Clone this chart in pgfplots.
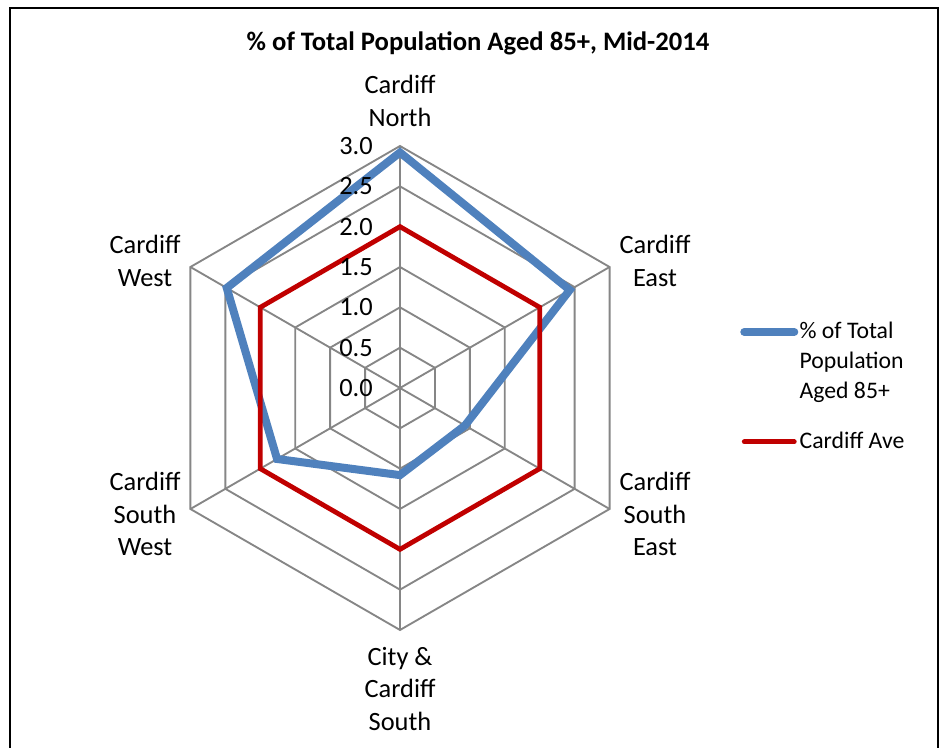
\documentclass[border=0pt]{standalone}
\usepackage{pgfplots}
\pgfplotsset{compat=1.18}
\usepackage{fontspec}
\setmainfont{Carlito}
\definecolor{serblue}{RGB}{79,129,189}
\definecolor{serred}{RGB}{192,0,0}
\definecolor{gridgray}{RGB}{134,134,134}
\tikzset{tlab/.style={anchor=east, inner sep=0pt, font=\fontsize{19.8}{24}\selectfont}}
\begin{document}
\begin{tikzpicture}
\path[use as bounding box] (0,0) rectangle (705.75pt,561pt);
\clip (0,0) rectangle (705.75pt,561pt);
\draw[line width=1.5pt] (7.5pt,-20pt) rectangle (703.5pt,555pt);
\begin{axis}[at={(300pt,270pt)}, anchor=origin, x=60.5pt, y=60.5pt,
  xmin=-4.9, xmax=6.6, ymin=-4.4, ymax=4.7, hide axis, clip=false,
  grid line/.style={gridgray, line width=1.4pt, data cs=polar, forget plot},
  legend style={draw=none, fill=none, inner sep=0pt, at={(axis cs:4.215,0.836)}, anchor=north west,
    cells={anchor=base west}, row sep=20pt, column sep=0pt,
    nodes={inner sep=1pt, text depth=, font=\fontsize{17.8}{22.5}\selectfont}},
  legend image code/.code={\draw[#1, line cap=round] (3pt,5pt) -- (40.5pt,5pt);},
  ]
% hexagonal grid
\addplot[grid line] coordinates {(90,0.5) (30,0.5) (-30,0.5) (-90,0.5) (-150,0.5) (150,0.5)} --cycle;
\addplot[grid line] coordinates {(90,1.0) (30,1.0) (-30,1.0) (-90,1.0) (-150,1.0) (150,1.0)} --cycle;
\addplot[grid line] coordinates {(90,1.5) (30,1.5) (-30,1.5) (-90,1.5) (-150,1.5) (150,1.5)} --cycle;
\addplot[grid line] coordinates {(90,2.0) (30,2.0) (-30,2.0) (-90,2.0) (-150,2.0) (150,2.0)} --cycle;
\addplot[grid line] coordinates {(90,2.5) (30,2.5) (-30,2.5) (-90,2.5) (-150,2.5) (150,2.5)} --cycle;
\addplot[grid line] coordinates {(90,3.0) (30,3.0) (-30,3.0) (-90,3.0) (-150,3.0) (150,3.0)} --cycle;
% spokes
\addplot[grid line] coordinates {(90,0) (90,3)};
\addplot[grid line] coordinates {(30,0) (30,3)};
\addplot[grid line] coordinates {(-30,0) (-30,3)};
\addplot[grid line] coordinates {(-90,0) (-90,3)};
\addplot[grid line] coordinates {(-150,0) (-150,3)};
\addplot[grid line] coordinates {(150,0) (150,3)};
% series
\addplot[serblue, line width=6pt, line join=miter, data cs=polar]
  coordinates {(90,2.92) (30,2.43) (-30,0.93) (-90,1.08) (-150,1.76) (150,2.48)} --cycle;
\addlegendentry{\parbox[t]{120pt}{\raggedright\% of Total\\Population\\Aged 85+}}
\addplot[serred, line width=3.6pt, line join=miter, data cs=polar]
  coordinates {(90,2.0) (30,2.0) (-30,2.0) (-90,2.0) (-150,2.0) (150,2.0)} --cycle;
\addlegendentry{Cardiff Ave}
% radial tick labels
\node[tlab] at (axis cs:-0.335,0) {0.0};
\node[tlab] at (axis cs:-0.335,0.5) {0.5};
\node[tlab] at (axis cs:-0.335,1) {1.0};
\node[tlab] at (axis cs:-0.335,1.5) {1.5};
\node[tlab] at (axis cs:-0.335,2) {2.0};
\node[tlab] at (axis cs:-0.335,2.5) {2.5};
\node[tlab] at (axis cs:-0.335,3) {3.0};
% category labels
\begin{scope}[every node/.style={align=center, inner sep=0pt, font=\fontsize{19.8}{24.2}\selectfont}]
\node at (axis cs:0,3.558) {Cardiff\\North};
\node at (axis cs:3.161,1.574) {Cardiff\\East};
\node at (axis cs:3.161,-1.562) {Cardiff\\South\\East};
\node at (axis cs:0,-3.731) {City \&\\Cardiff\\South};
\node at (axis cs:-3.161,-1.562) {Cardiff\\South\\West};
\node at (axis cs:-3.161,1.574) {Cardiff\\West};
\end{scope}
\node[font=\bfseries\fontsize{20}{24}\selectfont, inner sep=0pt] at (axis cs:0.967,4.277) {\% of Total Population Aged 85+, Mid-2014};
\end{axis}
\end{tikzpicture}
\end{document}
